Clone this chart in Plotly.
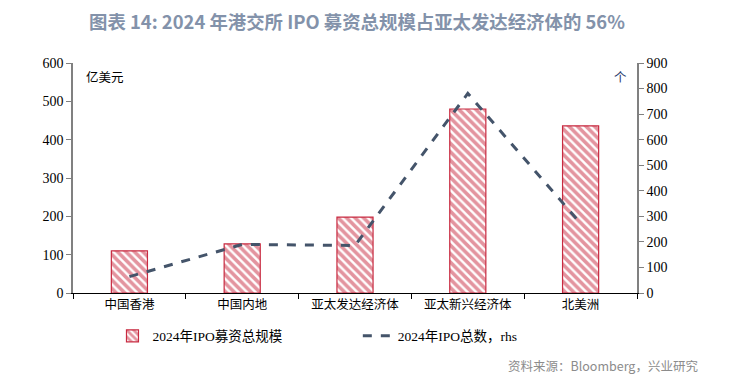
import plotly.graph_objects as go

categories = ["中国香港", "中国内地", "亚太发达经济体", "亚太新兴经济体", "北美洲"]
ipo_funds = [110, 128, 198, 480, 436]       # 亿美元
ipo_counts = [64, 190, 186, 781, 272]       # 个, rhs

red = "#c82a40"
slate = "#44546a"
font_fam = "Liberation Serif, Noto Sans CJK SC, serif"

fig = go.Figure()
fig.add_trace(go.Bar(
    x=categories, y=ipo_funds, name="2024年IPO募资总规模",
    width=0.32,
    marker=dict(color="white", line=dict(color=red, width=1.2),
                pattern=dict(shape="\\", fgcolor=red, bgcolor="white", size=6, solidity=0.6)),
    yaxis="y", legend="legend",
))
fig.add_trace(go.Scatter(
    x=categories, y=ipo_counts, name="2024年IPO总数，rhs",
    mode="lines", line=dict(color=slate, width=3, dash="dash"),
    yaxis="y2", legend="legend2",
))

leg_common = dict(orientation="h", y=-0.187, yanchor="middle", xanchor="left",
                  font=dict(family=font_fam, size=13.5), bgcolor="rgba(0,0,0,0)")

fig.update_layout(
    width=721, height=372,
    margin=dict(l=65, r=92, t=55, b=87, autoexpand=False),
    plot_bgcolor="white", paper_bgcolor="white",
    font=dict(family=font_fam, size=13, color="black"),
    title=dict(text="<b>图表 14: 2024 年港交所 IPO 募资总规模占亚太发达经济体的 56%</b>",
               x=0.484, xref="container", xanchor="center", y=0.962, yref="container",
               yanchor="middle",
               font=dict(family="Noto Sans CJK SC, Noto Sans", size=18.4, color="#8392aa")),
    xaxis=dict(showline=True, linecolor="black", linewidth=1, ticks="outside",
               tickson="boundaries", ticklen=5, tickcolor="black", showgrid=False,
               tickfont=dict(family="Noto Sans CJK SC", size=12.5)),
    yaxis=dict(range=[0, 600], dtick=100, showline=True, linecolor="#808080", linewidth=1.5,
               ticks="outside", ticklen=5, tickcolor="#808080", showgrid=False, zeroline=False,
               tickfont=dict(size=14)),
    yaxis2=dict(range=[0, 900], dtick=100, overlaying="y", side="right", showline=True,
                linecolor="#808080", linewidth=1.5, ticks="outside", ticklen=5,
                tickcolor="#808080", showgrid=False, zeroline=False, tickfont=dict(size=14)),
    showlegend=True,
    legend=dict(x=0.07, **leg_common),
    legend2=dict(x=0.505, **leg_common),
    annotations=[
        dict(text="亿美元", xref="paper", yref="paper", x=0.02, y=0.99, xanchor="left",
             yanchor="top", showarrow=False, font=dict(family="Noto Sans CJK SC", size=12.5)),
        dict(text="个", xref="paper", yref="paper", x=0.985, y=0.99, xanchor="right",
             yanchor="top", showarrow=False, font=dict(family="Noto Sans CJK SC", size=12.5, color="#1f3a6b")),
        dict(text="资料来源：Bloomberg，兴业研究", xref="paper", yref="paper", x=1.112, y=-0.317,
             xanchor="right", yanchor="middle", showarrow=False,
             font=dict(family="Noto Sans CJK SC, Noto Sans", size=12.5, color="#8c8c8c")),
    ],
)

fig.write_html("out.html")
